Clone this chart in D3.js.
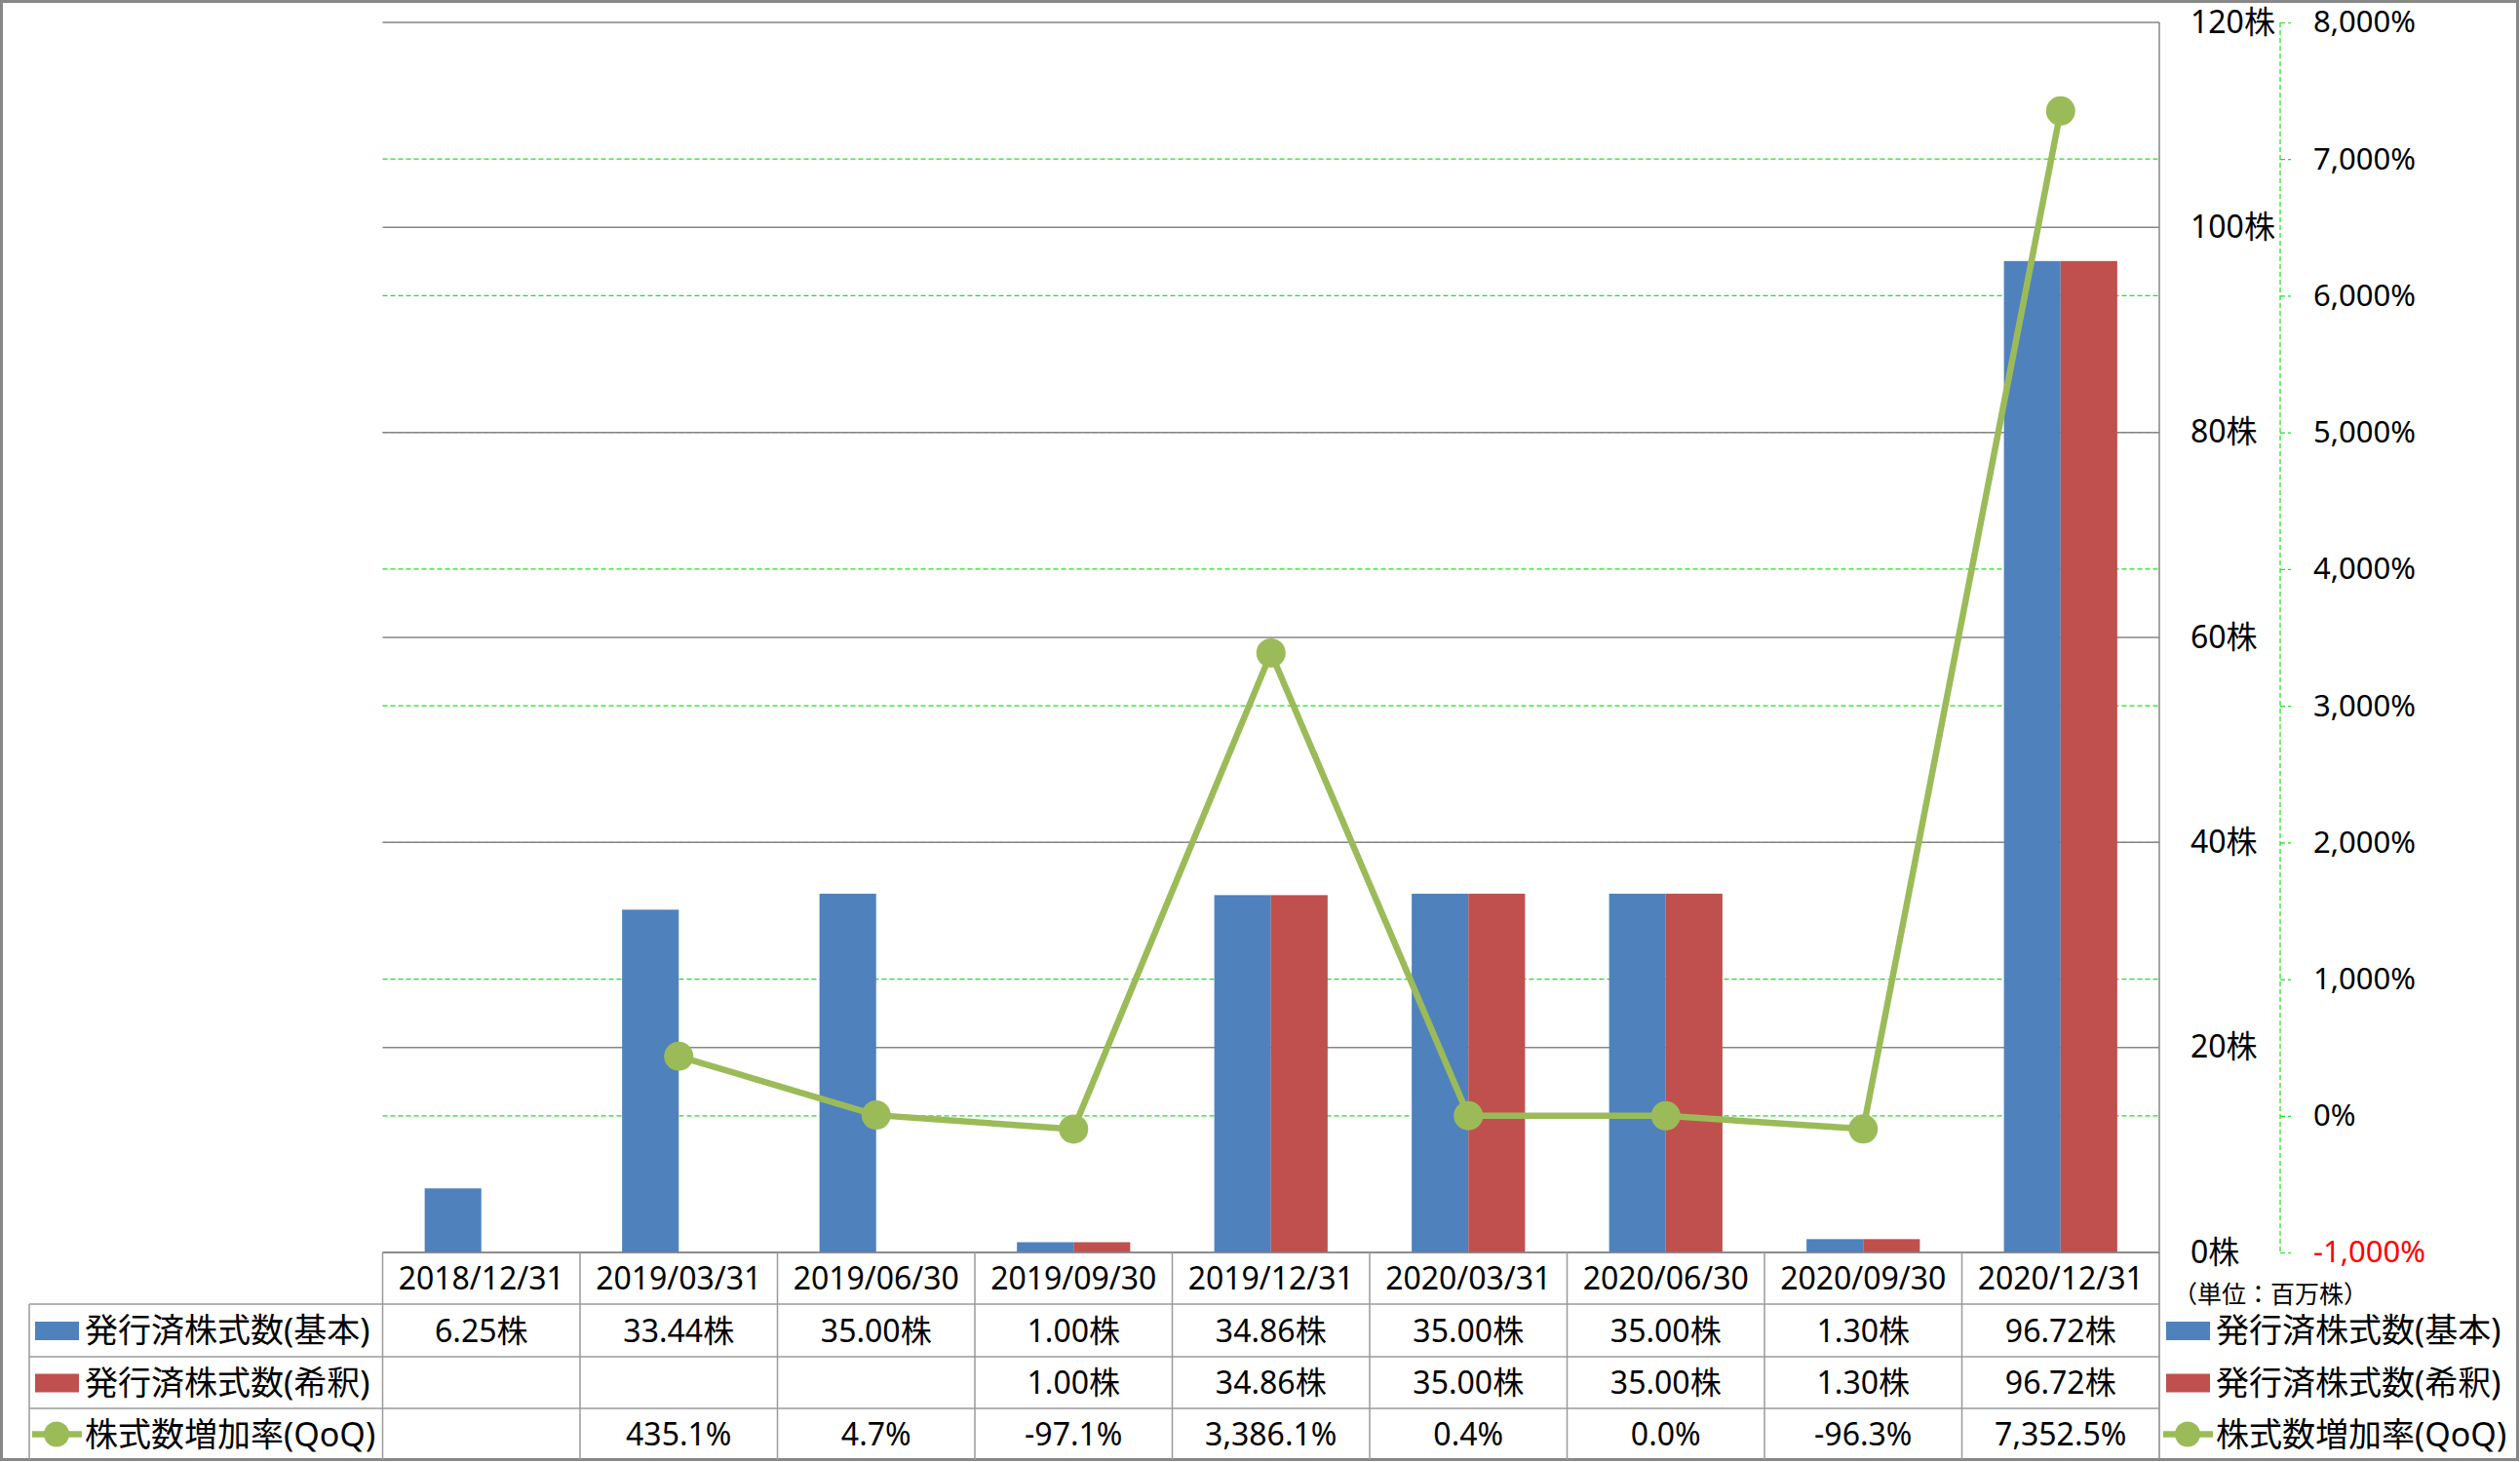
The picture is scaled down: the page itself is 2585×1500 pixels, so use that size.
<!DOCTYPE html>
<html><head><meta charset="utf-8">
<script src="https://cdn.jsdelivr.net/npm/d3@7"></script>
<style>
html,body{margin:0;padding:0;background:#fff;}
svg{display:block;}
text{font-family:"Noto Sans","Noto Sans CJK JP",sans-serif;fill:#000;}
</style></head>
<body>
<svg id="chart" width="2585" height="1500"></svg>
<script>
const categories = ["2018/12/31","2019/03/31","2019/06/30","2019/09/30","2019/12/31","2020/03/31","2020/06/30","2020/09/30","2020/12/31"];
const basicShares = [6.25, 33.44, 35.00, 1.00, 34.86, 35.00, 35.00, 1.30, 96.72];
const dilutedShares = [null, null, null, 1.00, 34.86, 35.00, 35.00, 1.30, 96.72];
const qoqGrowth = [null, 435.1, 4.7, -97.1, 3386.1, 0.4, 0.0, -96.3, 7352.5];
const seriesNames = ["発行済株式数(基本)","発行済株式数(希釈)","株式数増加率(QoQ)"];
const leftTicks = [0,20,40,60,80,100,120];
const rightTicks = [-1000,0,1000,2000,3000,4000,5000,6000,7000,8000];
const unitLabel = "（単位：百万株）";

const BLUE="#4F81BD", RED="#C0504D", GREEN="#9BBB59", GRID="#868686", TBL="#9a9a9a";
const svg = d3.select("#chart");
const hy = s => s.replace(/\u2212/g,"-");

const L=392.5, R=2215, T=23, B=1285;
const x = d3.scaleBand().domain(categories).range([L,R]).padding(0);
const yL = d3.scaleLinear().domain([0,120]).range([B,T]);
const yR = d3.scaleLinear().domain([-1000,8000]).range([B,T]);
const barW = x.bandwidth()*0.287;
const xs = d3.scaleBand().domain(["basic","diluted"]).range([-barW, barW]);

// outer border
svg.append("rect").attr("x",1.5).attr("y",1.5).attr("width",2581).attr("height",1496)
  .attr("fill","none").attr("stroke","#888").attr("stroke-width",3);

// green dashed grid (right axis)
svg.append("g").selectAll("line").data(rightTicks.filter(d=>d>-1000 && d<8000)).join("line")
  .attr("x1",L).attr("x2",R).attr("y1",d=>yR(d)).attr("y2",d=>yR(d))
  .attr("stroke","#22dd22").attr("stroke-width",1.2).attr("stroke-dasharray","5,3");
// gray grid (left axis)
svg.append("g").selectAll("line").data(leftTicks).join("line")
  .attr("x1",L).attr("x2",R).attr("y1",d=>yL(d)).attr("y2",d=>yL(d))
  .attr("stroke",GRID).attr("stroke-width",1.5);

// bars
const gBars = svg.append("g");
categories.forEach((c,i)=>{
  const cx = x(c)+x.bandwidth()/2;
  [["basic",basicShares[i],BLUE],["diluted",dilutedShares[i],RED]].forEach(([k,v,col])=>{
    if(v==null) return;
    gBars.append("rect").attr("x",cx+xs(k)).attr("width",xs.bandwidth())
      .attr("y",yL(v)).attr("height",yL(0)-yL(v)).attr("fill",col);
  });
});

// primary axis (right side of plot)
const axL = svg.append("g").attr("transform",`translate(${R},0)`)
  .call(d3.axisRight(yL).tickValues(leftTicks).tickSize(0).tickPadding(32).tickFormat(d=>d+"株"));
axL.select(".domain").attr("stroke",GRID).attr("stroke-width",1.5).attr("d",`M0,${T}V1498`);
axL.selectAll("text").attr("font-size",32).attr("dy","0.32em")
  .style("font-family","'Noto Sans','Noto Sans CJK JP',sans-serif");

// secondary axis
const axR = svg.append("g").attr("transform",`translate(2339,0)`)
  .call(d3.axisRight(yR).tickValues(rightTicks).tickSize(11).tickPadding(23).tickFormat(d=>hy(d3.format(",")(d))+"%"));
axR.select(".domain").attr("stroke","#22dd22").attr("stroke-width",1.2).attr("stroke-dasharray","5,3").attr("d",`M0,${T}V${B}`);
axR.selectAll(".tick line").attr("stroke","#22dd22").attr("stroke-width",1.2).attr("stroke-dasharray","5,3");
axR.selectAll("text").attr("font-size",31).attr("dy","0.32em")
  .style("fill",d=>d<0?"#ff0000":"#000")
  .style("font-family","'Noto Sans',sans-serif");

svg.append("text").attr("x",2229).attr("y",1328).attr("dy","0.35em").attr("font-size",25).text(unitLabel);

// line
const pts = categories.map((c,i)=>({x:x(c)+x.bandwidth()/2, v:qoqGrowth[i]})).filter(d=>d.v!=null);
svg.append("path").datum(pts)
  .attr("d",d3.line().x(d=>d.x).y(d=>yR(d.v)))
  .attr("fill","none").attr("stroke",GREEN).attr("stroke-width",6.5).attr("stroke-linejoin","round");
svg.append("g").selectAll("circle").data(pts).join("circle")
  .attr("cx",d=>d.x).attr("cy",d=>yR(d.v)).attr("r",15).attr("fill",GREEN);

// data table
const rowY = [1285,1338,1392,1445,1498];
const tbl = svg.append("g");
[1338,1392,1445].forEach(y=>tbl.append("line").attr("x1",30).attr("x2",R).attr("y1",y).attr("y2",y).attr("stroke",TBL).attr("stroke-width",1.5));
tbl.append("line").attr("x1",L).attr("x2",R).attr("y1",B).attr("y2",B).attr("stroke",GRID).attr("stroke-width",1.5);
categories.forEach(c=>tbl.append("line").attr("x1",x(c)).attr("x2",x(c)).attr("y1",B).attr("y2",1498).attr("stroke",TBL).attr("stroke-width",1.5));
tbl.append("line").attr("x1",30).attr("x2",30).attr("y1",1338).attr("y2",1498).attr("stroke",TBL).attr("stroke-width",1.5);

const fmtShares = v=> v==null? "" : d3.format(".2f")(v)+"株";
const fmtPct = v=> v==null? "" : hy(d3.format(",.1f")(v))+"%";
categories.forEach((c,i)=>{
  const cx = x(c)+x.bandwidth()/2;
  const cells = [c, fmtShares(basicShares[i]), fmtShares(dilutedShares[i]), fmtPct(qoqGrowth[i])];
  cells.forEach((t,r)=>{
    tbl.append("text").attr("x",cx).attr("y",(rowY[r]+rowY[r+1])/2).attr("dy","0.36em")
      .attr("text-anchor","middle").attr("font-size",32).text(t);
  });
});

// legend keys (table left and right legend)
function legendKey(g, x0, yc, idx){
  if(idx<2){
    g.append("rect").attr("x",x0).attr("y",yc-9).attr("width",45).attr("height",19).attr("fill",idx===0?BLUE:RED);
  } else {
    g.append("line").attr("x1",x0-3).attr("x2",x0+48).attr("y1",yc).attr("y2",yc).attr("stroke",GREEN).attr("stroke-width",6.5);
    g.append("circle").attr("cx",x0+22).attr("cy",yc).attr("r",13).attr("fill",GREEN);
  }
  g.append("text").attr("x",x0+51).attr("y",yc).attr("dy","0.36em").attr("font-size",34).text(seriesNames[idx]);
}
[0,1,2].forEach(k=>{
  const yc=(rowY[k+1]+rowY[k+2])/2;
  legendKey(tbl,36,yc,k);
  legendKey(svg,2222,yc,k);
});
</script>
</body></html>
